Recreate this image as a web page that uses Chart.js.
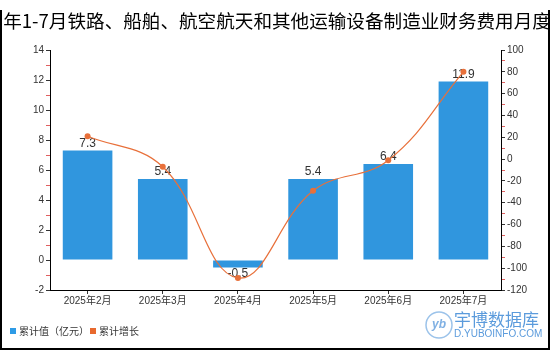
<!DOCTYPE html>
<html>
<head>
<meta charset="utf-8">
<script src="https://cdn.jsdelivr.net/npm/chart.js@4.4.1/dist/chart.umd.min.js"></script>
<style>
  html, body { margin: 0; padding: 0; background: #fff; }
  #wrap { width: 550px; height: 350px; position: relative; }
</style>
</head>
<body>
<div id="wrap"><canvas id="grafico" width="550" height="350"></canvas></div>
<script>
const titulo = '2025年1-7月铁路、船舶、航空航天和其他运输设备制造业财务费用月度统计';
const meses = ['2025年2月', '2025年3月', '2025年4月', '2025年5月', '2025年6月', '2025年7月'];
const valorAcumulado = [7.3, 5.4, -0.5, 5.4, 6.4, 11.9];
const crescimentoAcumulado = [21, -7, -109, -29, -1, 80];

const corBarra = '#3096de';
const corLinha = '#e8703a';
const fonteNum = '"Liberation Sans", "Noto Sans CJK SC", sans-serif';
const fonteCJK = '"Noto Sans CJK SC", sans-serif';

// titulo, moldura, legenda e marca d'agua
const extras = {
  id: 'extras',
  beforeDraw(chart) {
    const c = chart.ctx;
    c.save();
    c.fillStyle = '#fff';
    c.fillRect(0, 0, chart.width, chart.height);
    c.restore();
  },
  afterDatasetDraw(chart, args) {
    if (args.index !== 0) return;
    const c = chart.ctx;
    const meta = chart.getDatasetMeta(0);
    c.save();
    c.font = '12px ' + fonteNum;
    c.fillStyle = '#333';
    c.textAlign = 'center';
    c.textBaseline = 'middle';
    meta.data.forEach((bar, i) => {
      const v = valorAcumulado[i];
      const y = v >= 0 ? bar.y - 7 : bar.y + 6;
      c.fillText(String(v), bar.x, y);
    });
    c.restore();
  },
  afterDraw(chart) {
    const c = chart.ctx;
    c.save();
    // titulo
    c.font = '18.6px ' + fonteCJK;
    c.fillStyle = '#000';
    c.textAlign = 'center';
    c.textBaseline = 'middle';
    c.fillText(titulo, chart.width / 2, 21);

    // moldura
    c.strokeStyle = '#000';
    c.lineWidth = 2;
    c.beginPath();
    c.moveTo(1, 10);
    c.lineTo(1, 349);
    c.lineTo(549, 349);
    c.lineTo(549, 10);
    c.stroke();

    // legenda
    c.font = '10px ' + fonteCJK;
    c.textAlign = 'left';
    c.fillStyle = '#2e9be6';
    c.fillRect(10, 328, 6, 6);
    c.fillStyle = '#333';
    c.fillText('累计值（亿元）', 19, 331);
    c.fillStyle = '#e8692e';
    c.fillRect(90, 328, 6, 6);
    c.fillStyle = '#333';
    c.fillText('累计增长', 99, 331);

    // marca d'agua
    c.strokeStyle = '#9cc3ea';
    c.lineWidth = 1.5;
    c.beginPath();
    c.arc(439, 325, 13, 0, Math.PI * 2);
    c.stroke();
    c.fillStyle = '#7fb0e3';
    c.font = 'italic bold 12px ' + fonteNum;
    c.textAlign = 'center';
    c.fillText('yb', 439, 325);
    c.fillStyle = '#5b9bdc';
    c.textAlign = 'left';
    c.font = '17px ' + fonteCJK;
    c.fillText('宇博数据库', 454, 320);
    c.font = '10px ' + fonteNum;
    c.fillText('D.YUBOINFO.COM', 454, 334);
    c.restore();
  }
};

const ctx = document.getElementById('grafico').getContext('2d');

new Chart(ctx, {
  data: {
    labels: meses,
    datasets: [
      {
        type: 'bar',
        label: '累计值(亿元)',
        data: valorAcumulado,
        backgroundColor: corBarra,
        yAxisID: 'y',
        barPercentage: 0.66,
        categoryPercentage: 1,
        order: 2
      },
      {
        type: 'line',
        label: '累计增长',
        data: crescimentoAcumulado,
        borderColor: corLinha,
        backgroundColor: corLinha,
        borderWidth: 1.2,
        pointRadius: 3,
        pointBackgroundColor: corLinha,
        pointBorderWidth: 0,
        tension: 0.4,
        yAxisID: 'y1',
        order: 1
      }
    ]
  },
  options: {
    responsive: false,
    animation: false,
    layout: { padding: { top: 50, left: 0, right: 0, bottom: 0 } },
    plugins: {
      legend: { display: false },
      title: { display: false },
      tooltip: { enabled: false }
    },
    scales: {
      x: {
        offset: true,
        grid: { drawOnChartArea: false, offset: false, tickLength: 4, color: '#333' },
        border: { color: '#000' },
        ticks: { color: '#333', font: { size: 10, family: fonteNum }, padding: 1, maxRotation: 0 },
        afterFit: (s) => { s.height = 60; }
      },
      y: {
        position: 'left',
        min: -2,
        max: 14,
        grid: {
          drawOnChartArea: false,
          tickLength: 4,
          color: (c) => (c.tick && Math.abs(c.tick.value) % 2 === 0 ? '#333' : '#e06060')
        },
        border: { color: '#000' },
        ticks: {
          stepSize: 1,
          autoSkip: false,
          color: '#333',
          padding: 2,
          font: { size: 10, family: fonteNum },
          callback: (v) => (Math.abs(v) % 2 === 0 ? v : '')
        },
        afterFit: (s) => { s.width = 50; }
      },
      y1: {
        position: 'right',
        min: -120,
        max: 100,
        grid: {
          drawOnChartArea: false,
          tickLength: 4,
          color: (c) => (c.tick && Math.abs(c.tick.value) % 20 === 0 ? '#333' : '#e06060')
        },
        border: { color: '#000' },
        ticks: {
          stepSize: 10,
          autoSkip: false,
          color: '#333',
          padding: 2,
          font: { size: 10, family: fonteNum },
          callback: (v) => (Math.abs(v) % 20 === 0 ? v : '')
        },
        afterFit: (s) => { s.width = 49; }
      }
    }
  },
  plugins: [extras]
});
</script>
</body>
</html>
